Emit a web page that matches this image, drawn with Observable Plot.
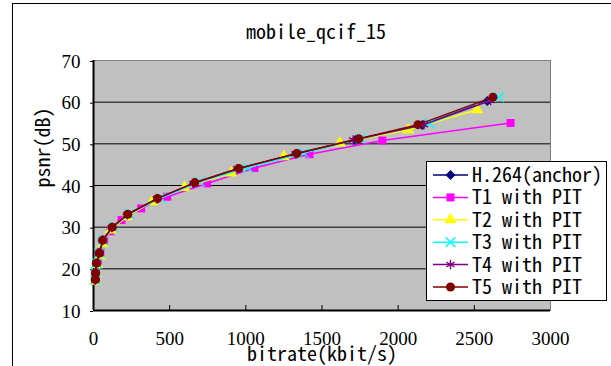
<!DOCTYPE html>
<html><head><meta charset="utf-8">
<script src="https://cdn.jsdelivr.net/npm/d3@7"></script>
<script src="https://cdn.jsdelivr.net/npm/@observablehq/plot@0.6"></script>
<style>
html,body{margin:0;padding:0;background:#fff;}
#chart{position:relative;width:611px;height:366px;overflow:hidden;}
</style></head><body><div id="chart"></div>
<script>
const chartTitle = "mobile_qcif_15";
const xLabel = "bitrate(kbit/s)";
const yLabel = "psnr(dB)";
const seriesNames = ["H.264(anchor)", "T1 with PIT", "T2 with PIT", "T3 with PIT", "T4 with PIT", "T5 with PIT"];
const seriesColors = ["#000080", "#ff00ff", "#ffff00", "#00ffff", "#800080", "#800000"];
const seriesSymbols = ["diamond2", "square", "triangle", "times", "asterisk", "circle"];

const anchorRate = [12, 13, 20, 38, 60, 122, 222, 418, 660, 950, 1330, 1720, 2158, 2585];
const anchorPsnr = [17.3, 19.0, 21.3, 23.8, 26.8, 29.9, 33.0, 36.8, 40.5, 44.0, 47.6, 50.9, 54.5, 60.3];
const t1Rate = [12, 16, 28, 45, 70, 112, 184, 313, 484, 746, 1057, 1418, 1896, 2738];
const t1Psnr = [17.2, 19.0, 21.5, 24.0, 26.6, 29.0, 31.7, 34.5, 37.3, 40.5, 44.2, 47.5, 50.8, 55.0];
const t2Rate = [12, 16, 25, 41, 61, 112, 217, 385, 598, 904, 1250, 1617, 2066, 2519];
const t2Psnr = [17.0, 18.8, 21.0, 23.1, 26.1, 29.3, 32.5, 36.1, 39.5, 43.0, 46.9, 50.2, 53.4, 58.2];
const t3Rate = [13, 14, 21, 40, 63, 128, 235, 440, 698, 1013, 1381, 1753, 2206, 2662];
const t3Psnr = [17.4, 19.1, 21.4, 23.9, 26.9, 30.1, 33.2, 37.0, 40.9, 44.3, 47.8, 51.3, 54.9, 61.2];
const t4Rate = [12, 13, 20, 38, 60, 121, 222, 415, 655, 943, 1326, 1705, 2169, 2607];
const t4Psnr = [17.3, 19.0, 21.3, 23.7, 26.8, 29.9, 33.0, 36.8, 40.5, 44.0, 47.6, 50.9, 54.6, 60.4];
const t5Rate = [12, 14, 20, 39, 61, 123, 225, 420, 665, 954, 1335, 1742, 2130, 2622];
const t5Psnr = [17.4, 19.0, 21.4, 23.8, 26.9, 30.0, 33.1, 36.9, 40.7, 44.1, 47.7, 51.2, 54.6, 61.2];

const xTicks = [0, 500, 1000, 1500, 2000, 2500, 3000];
const yTicks = [10, 20, 30, 40, 50, 60, 70];

const rates = [anchorRate, t1Rate, t2Rate, t3Rate, t4Rate, t5Rate];
const psnrs = [anchorPsnr, t1Psnr, t2Psnr, t3Psnr, t4Psnr, t5Psnr];
const seriesData = seriesNames.map((name, i) => rates[i].map((r, j) => ({series: name, rate: r, psnr: psnrs[i][j]})));

const font = "'Noto Sans Mono CJK SC', 'Noto Sans Mono CJK JP', monospace";
const fontSize = "20px";
const numFont = "'Liberation Serif', 'DejaVu Serif', serif";
const strokeSymbols = new Set(["times", "asterisk", "plus"]);

const seriesMarks = seriesData.flatMap((data, i) => {
  const sym = seriesSymbols[i];
  const isStroke = strokeSymbols.has(sym);
  return [
    Plot.line(data, {x: "rate", y: "psnr", stroke: seriesColors[i], strokeWidth: 1.5}),
    Plot.dot(data, {x: "rate", y: "psnr", symbol: () => sym, r: 4.5,
      fill: isStroke ? "none" : seriesColors[i], stroke: isStroke ? seriesColors[i] : "none", strokeWidth: isStroke ? 1.4 : 0})
  ];
});

const plot = Plot.plot({
  width: 611, height: 366,
  marginLeft: 93, marginRight: 61, marginTop: 60, marginBottom: 56,
  style: {fontFamily: font, fontSize: fontSize, background: "transparent", color: "#000", overflow: "visible"},
  x: {domain: [0, 3000]},
  y: {domain: [10, 70]},
  symbol: {domain: seriesSymbols, range: seriesSymbols},
  marks: [
    Plot.frame({fill: "#c0c0c0", stroke: "#808080"}),
    Plot.gridY(yTicks.slice(1, -1), {stroke: "#000", strokeOpacity: 1, strokeWidth: 1}),
    Plot.ruleY([10], {stroke: "#000", strokeWidth: 2}),
    Plot.ruleX([0], {stroke: "#000", strokeWidth: 2}),
    Plot.axisY(yTicks, {tickSize: 3, tickPadding: 10, stroke: "#000", fill: "#000", label: null, dy: 1,
      fontFamily: numFont, fontSize: 19, tickFormat: d => String(d)}),
    Plot.axisX(xTicks, {tickSize: 0, tickPadding: 21, fill: "#000", label: null,
      fontFamily: numFont, fontSize: 19, tickFormat: d => String(d)}),
    Plot.axisX(xTicks.slice(1, -1), {tickSize: 5, dy: -5, text: null, stroke: "#000", label: null}),
    ...seriesMarks,
    Plot.text([chartTitle], {frameAnchor: "top", dx: -6, dy: -22, lineAnchor: "bottom", fill: "#000"}),
    Plot.text([xLabel], {frameAnchor: "bottom", dx: 0, dy: 50, lineAnchor: "bottom", fill: "#000"}),
    Plot.text([yLabel], {frameAnchor: "left", dx: -50, dy: 2, rotate: -90, fill: "#000"})
  ]
});

const svg = d3.select(plot);
// outer chart border
svg.insert("rect", ":first-child")
  .attr("x", 12.5).attr("y", 3.5).attr("width", 620).attr("height", 400)
  .attr("fill", "#fff").attr("stroke", "#000").attr("stroke-width", 1);

// legend
const lg = svg.append("g").attr("transform", "translate(426,161)").attr("text-anchor", "start");
lg.append("rect").attr("x", 0.5).attr("y", 0.5).attr("width", 180).attr("height", 139)
  .attr("fill", "#fff").attr("stroke", "#000");
const symMap = {diamond2: d3.symbolDiamond2, square: d3.symbolSquare, triangle: d3.symbolTriangle,
  times: d3.symbolTimes, asterisk: d3.symbolAsterisk, circle: d3.symbolCircle};
seriesNames.forEach((name, i) => {
  const cy = 14 + i * 22.4;
  const row = lg.append("g").attr("transform", `translate(0,${cy})`);
  row.append("line").attr("x1", 7).attr("x2", 42).attr("y1", 0).attr("y2", 0)
    .attr("stroke", seriesColors[i]).attr("stroke-width", 1.5);
  const sym = seriesSymbols[i];
  const isStroke = strokeSymbols.has(sym);
  row.append("path").attr("transform", "translate(24.5,0)")
    .attr("d", d3.symbol(symMap[sym], 4.5 * 4.5 * Math.PI)())
    .attr("fill", isStroke ? "none" : seriesColors[i])
    .attr("stroke", isStroke ? seriesColors[i] : "none").attr("stroke-width", 1.4);
  row.append("text").attr("x", 46).attr("y", 0).attr("dy", "0.35em").attr("text-anchor", "start")
    .attr("font-family", font).attr("font-size", fontSize).attr("fill", "#000").text(name);
});

document.getElementById("chart").appendChild(plot);
</script></body></html>
